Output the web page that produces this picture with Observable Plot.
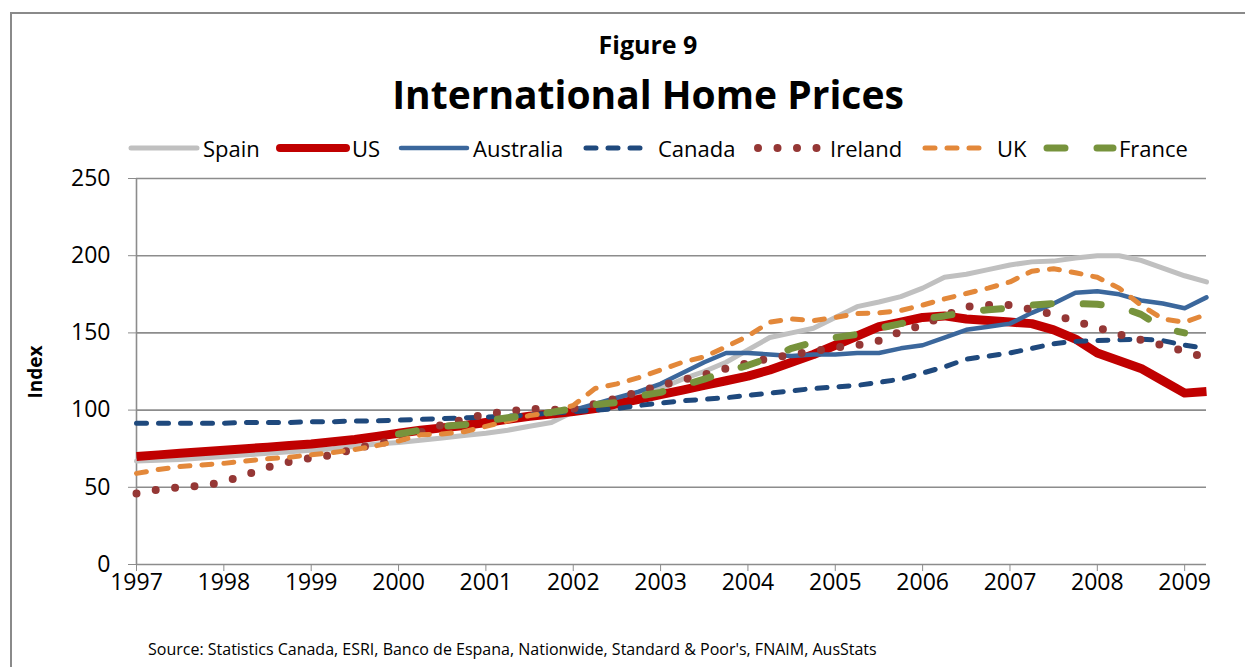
<!DOCTYPE html>
<html>
<head>
<meta charset="utf-8">
<script src="https://cdn.jsdelivr.net/npm/d3@7"></script>
<script src="https://cdn.jsdelivr.net/npm/@observablehq/plot@0.6"></script>
<style>
  body { margin: 0; background: #fff; font-family: "Open Sans", sans-serif; }
  #wrap { position: relative; width: 1245px; height: 667px; overflow: hidden; background: #fff; }
  #frame { position: absolute; left: 10px; top: 12px; width: 1400px; height: 800px;
           border-left: 2px solid #8a8a8a; border-top: 2px solid #8a8a8a; }
  .t { position: absolute; white-space: nowrap; color: #000; }
  #fig { left: 648px; top: 28px; transform: translateX(-50%); font-weight: 700; font-size: 25px; line-height: 32px; }
  #title { left: 648px; top: 68px; transform: translateX(-50%); font-weight: 700; font-size: 39px; line-height: 52px; }
  .leg { position: absolute; top: 134px; height: 28px; display: flex; align-items: center; font-size: 22px; white-space: nowrap; }
  #ylab { left: 35px; top: 372px; transform: translate(-50%, -50%) rotate(-90deg); font-weight: 700; font-size: 19px; }
  #source { left: 148px; top: 637px; font-size: 16px; line-height: 24px; }
  #chart { position: absolute; left: 0; top: 160px; }
</style>
</head>
<body>
<div id="wrap">
  <div id="frame"></div>
  <div class="t" id="fig">Figure 9</div>
  <div class="t" id="title">International Home Prices</div>
  <div id="legend"></div>
  <div class="t" id="ylab">Index</div>
  <div id="chart"></div>
  <div class="t" id="source">Source: Statistics Canada, ESRI, Banco de Espana, Nationwide, Standard &amp; Poor's, FNAIM, AusStats</div>
</div>
<script>
// Quarterly index values, 1997 Q1 .. 2009 Q2 (50 quarters)
const startYear = 1997;
const yearTicks = [1997, 1998, 1999, 2000, 2001, 2002, 2003, 2004, 2005, 2006, 2007, 2008, 2009];
const yTicks = [0, 50, 100, 150, 200, 250];
const seriesNames = ["Spain", "US", "Australia", "Canada", "Ireland", "UK", "France"];

const spain = [
  67, 67.5, 68, 69,
  70, 71, 72, 73,
  74, 75, 76.5, 78,
  79, 80.5, 82, 83.5,
  85, 87, 89.5, 92,
  99, 102, 106, 110,
  114, 120, 125, 131,
  139, 147, 150, 153,
  160, 167, 170, 173.5,
  179, 186, 188, 191,
  194, 196, 196.5, 198.5,
  200, 200, 197, 192,
  187, 183
];
const us = [
  70, 71, 72, 73,
  74, 75, 76, 77,
  78, 79.5, 81, 83,
  85, 87, 88.5, 90,
  92, 94, 96, 97.5,
  99, 101, 104, 107,
  110, 113, 116, 119,
  122, 126, 131, 136,
  142, 148, 154, 157,
  160, 161, 159, 158,
  157, 156, 152, 146,
  137, 132, 127, 119,
  111, 112
];
const australia = [
  null, null, null, null,
  null, null, null, null,
  null, null, null, null,
  null, null, null, null,
  null, null, null, null,
  100, 104, 108, 112,
  117, 124, 131, 137,
  137, 136, 135, 136,
  136, 137, 137, 140,
  142, 147, 152, 154,
  156, 163, 169, 176,
  177, 175, 171, 169,
  166, 173
];
const canada = [
  91.5, 91.5, 91.5, 91.5,
  91.5, 92, 92, 92,
  92.5, 92.5, 93, 93,
  93.5, 94, 94.5, 95,
  95.5, 96, 97, 98,
  99, 100, 101, 103,
  104.5, 106, 107, 108,
  109.5, 111, 112.5, 114,
  115, 116, 118, 120,
  124, 128, 133, 135,
  137, 140, 143, 144.5,
  145, 145.5, 146, 145,
  142, 140
];
const ireland = [
  46, 48.5, 50, 51,
  53.5, 58, 63, 66.5,
  69, 71, 75, 78,
  81, 85.5, 90.5, 94,
  97.5, 99, 101, 100,
  101, 104, 107.5, 112,
  116, 119.5, 123, 127,
  130.5, 133.5, 136, 138,
  140.5, 142, 145, 151,
  155, 161, 167, 168,
  168, 165, 162, 157.5,
  153.5, 149, 145.5, 142,
  138, 134
];
const uk = [
  59, 61.5, 63.5, 64.5,
  65.5, 67, 68.5, 69.5,
  71, 72.5, 74.5, 77,
  80, 84, 84.5, 86,
  89.5, 93, 96.5, 98.5,
  103, 114, 117, 121,
  126, 131, 134.5, 141,
  148, 157, 159, 158,
  160, 162.5, 163, 164.5,
  168, 172, 175.5, 179,
  183, 190, 191.5, 189,
  186, 179, 168, 159,
  157, 162
];
const france = [
  null, null, null, null,
  null, null, null, null,
  null, null, null, null,
  84.5, 87, 89.5, 90.5,
  93, 95, 97, 98.5,
  101, 103.5, 105, 109,
  111.5, 116, 120, 125,
  129, 134, 140, 144,
  147, 149, 153, 156,
  159, 161, 163.5, 165,
  166, 168, 169, 169,
  168.5, 167, 162, 153,
  150, null
];

const styles = {
  Spain:     {stroke: "#c0c0c0", strokeWidth: 5,   dash: null,    cap: "round"},
  US:        {stroke: "#c00000", strokeWidth: 9,   dash: null,    cap: "butt"},
  Australia: {stroke: "#3b679c", strokeWidth: 4.5, dash: null,    cap: "round"},
  Canada:    {stroke: "#1f497d", strokeWidth: 5,   dash: "10,12", cap: "round"},
  Ireland:   {stroke: "#953735", strokeWidth: 8,   dash: "0,19.5", cap: "round"},
  UK:        {stroke: "#e3883a", strokeWidth: 5,   dash: "10,12", cap: "round"},
  France:    {stroke: "#77933c", strokeWidth: 7,   dash: "18,32", cap: "round"}
};
const valueArrays = {Spain: spain, US: us, Australia: australia, Canada: canada, Ireland: ireland, UK: uk, France: france};

function rows(name) {
  return valueArrays[name].map((v, i) => ({x: startYear + i / 4, y: v}));
}

const lineMarks = seriesNames.map(name => {
  const s = styles[name];
  return Plot.line(rows(name), {
    x: "x", y: "y",
    defined: d => d.y != null,
    stroke: s.stroke,
    strokeWidth: s.strokeWidth,
    strokeDasharray: s.dash || undefined,
    strokeLinecap: s.cap,
    strokeLinejoin: "round"
  });
});

const plot = Plot.plot({
  width: 1245,
  height: 507,
  marginTop: 18,
  marginBottom: 103,
  marginLeft: 136,
  marginRight: 39,
  style: {fontFamily: "'Open Sans', sans-serif", fontSize: "23px", background: "transparent", color: "#000"},
  x: {domain: [1997, 2009.25]},
  y: {domain: [0, 250]},
  marks: [
    Plot.ruleY(yTicks, {stroke: "#8c8c8c", strokeWidth: 1.6}),
    Plot.ruleX([1997], {y1: 0, y2: 250, stroke: "#8c8c8c", strokeWidth: 1.6}),
    Plot.axisY({ticks: yTicks, tickSize: 8, tickPadding: 18, stroke: "#8c8c8c", color: "#000", fontSize: 23, label: null}),
    Plot.axisX({ticks: yearTicks, tickFormat: d => String(d), tickSize: 7, tickPadding: 2, stroke: "#8c8c8c", color: "#000", fontSize: 23, label: null}),
    ...lineMarks
  ]
});
document.getElementById("chart").appendChild(plot);

// Legend
const legendLeft = {Spain: 127, US: 276, Australia: 397, Canada: 582, Ireland: 754, UK: 921, France: 1043};
const legend = document.getElementById("legend");
seriesNames.forEach(name => {
  const s = styles[name];
  const item = document.createElement("div");
  item.className = "leg";
  item.style.left = legendLeft[name] + "px";
  const ns = "http://www.w3.org/2000/svg";
  const sw = document.createElementNS(ns, "svg");
  sw.setAttribute("width", 74);
  sw.setAttribute("height", 16);
  const ln = document.createElementNS(ns, "line");
  ln.setAttribute("x1", 4); ln.setAttribute("x2", 70);
  ln.setAttribute("y1", 8); ln.setAttribute("y2", 8);
  ln.setAttribute("stroke", s.stroke);
  ln.setAttribute("stroke-width", Math.min(s.strokeWidth, 8));
  ln.setAttribute("stroke-linecap", name === "US" ? "round" : s.cap);
  if (s.dash) ln.setAttribute("stroke-dasharray", s.dash);
  sw.appendChild(ln);
  item.appendChild(sw);
  const tx = document.createElement("span");
  tx.textContent = name;
  tx.style.marginLeft = "2px";
  item.appendChild(tx);
  legend.appendChild(item);
});
</script>
</body>
</html>
